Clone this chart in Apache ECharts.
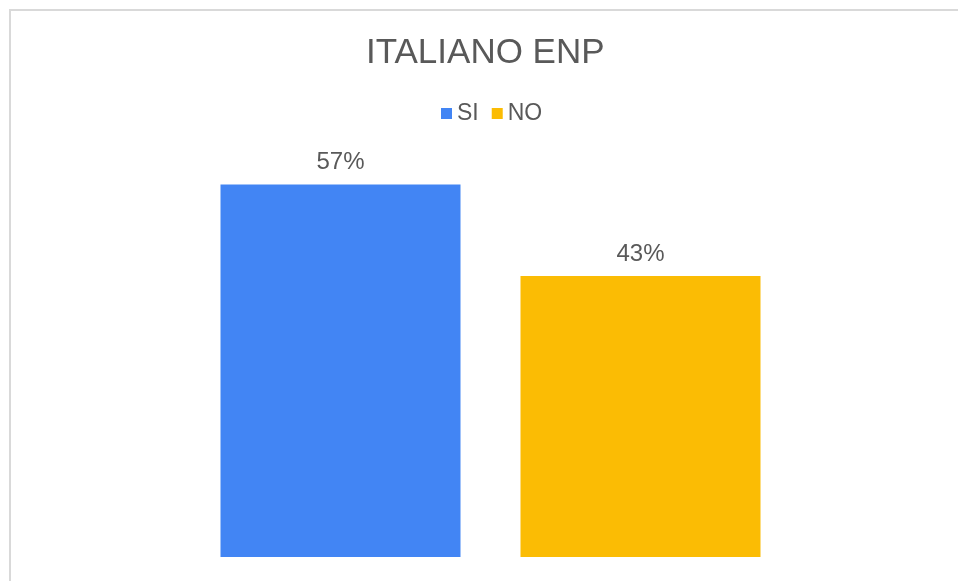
<!DOCTYPE html>
<html>
<head>
<meta charset="utf-8">
<title>ITALIANO ENP</title>
<script src="https://cdn.jsdelivr.net/npm/echarts@6/dist/echarts.min.js"></script>
<style>
    html, body { margin: 0; padding: 0; background: #fff; }
    #chart { width: 958px; height: 581px; }
</style>
</head>
<body>
<div id="chart"></div>
<script>
// ===== data =====
const categories = [''];
const seriesNames = ['SI', 'NO'];
const seriesValues = [57, 43];      // percent
const seriesColors = ['#4285F4', '#FBBC04'];

const chart = echarts.init(document.getElementById('chart'));

const series = seriesNames.map((name, i) => ({
    name: name,
    type: 'bar',
    data: [seriesValues[i]],
    barWidth: 240,
    barGap: '25%',
    itemStyle: { color: seriesColors[i] },
    label: {
        show: true,
        position: 'top',
        distance: 10,
        formatter: '{c}%',
        color: '#595959',
        fontSize: 24,
        fontFamily: 'Liberation Sans, Arial, sans-serif',
    },
}));

chart.setOption({
    animation: false,
    textStyle: { fontFamily: 'Liberation Sans, Arial, sans-serif' },
    title: {
        text: 'ITALIANO ENP',
        left: 366,
        top: 36,
        padding: 0,
        textStyle: {
            color: '#595959',
            fontSize: 35,
            fontWeight: 'normal',
        },
    },
    legend: {
        data: seriesNames,
        left: 441,
        top: 102,
        padding: 0,
        itemWidth: 11,
        itemHeight: 11,
        itemGap: 13,
        icon: 'rect',
        textStyle: { color: '#595959', fontSize: 23 },
    },
    grid: { left: 40, right: 17, top: 165, bottom: 24 },
    xAxis: {
        type: 'category',
        data: categories,
        axisLine: { show: false },
        axisTick: { show: false },
        axisLabel: { show: false },
    },
    yAxis: {
        type: 'value',
        min: 0,
        max: 60,
        show: false,
        splitLine: { show: false },
    },
    graphic: [{
        type: 'rect',
        shape: { x: 10, y: 10, width: 1000, height: 1000 },
        style: { fill: 'none', stroke: '#d9d9d9', lineWidth: 2 },
        silent: true,
    }],
    series: series,
});
</script>
</body>
</html>
